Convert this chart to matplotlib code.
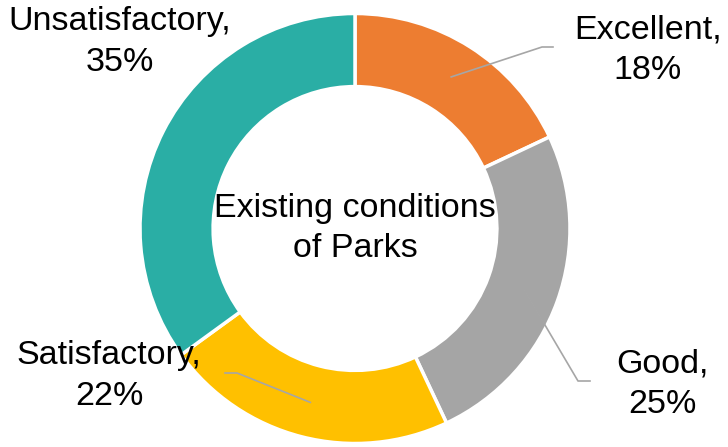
import numpy as np
from matplotlib import pyplot as plt

categories = ['Excellent', 'Good', 'Satisfactory', 'Unsatisfactory']
shares = [18, 25, 22, 35]
colors = ['#ED7D31', '#A5A5A5', '#FFC000', '#2AAEA5']
title = 'Existing conditions\nof Parks'

W, H = 728, 447
cx, cy = 355, H - 228.5
R = 215

plt.rcParams['font.family'] = ['Liberation Sans', 'DejaVu Sans']

fig = plt.figure(figsize=(W / 100, H / 100), dpi=100)
ax = fig.add_axes([0, 0, 1, 1])

wedges, _ = ax.pie(shares, colors=colors, startangle=90, counterclock=False,
                   center=(cx, cy), radius=R, frame=False,
                   wedgeprops=dict(width=R * 0.34, edgecolor='white', linewidth=2.5))
ax.set_xlim(0, W)
ax.set_ylim(0, H)
ax.set_aspect('equal')
ax.axis('off')

ax.text(cx, cy, title, ha='center', va='center', fontsize=24.5, linespacing=1.4)

# label block centre and leader elbow (pixels from top-left), per category
label_pos = {'Excellent': (648, 50), 'Good': (662, 384),
             'Satisfactory': (109, 376), 'Unsatisfactory': (120, 42)}
elbows = {'Excellent': [(542, 47), (553, 47)],
          'Good': [(578, 381), (590, 381)],
          'Satisfactory': [(237, 373), (225, 373)]}

for w, cat, s in zip(wedges, categories, shares):
    lx, ly = label_pos[cat]
    ax.text(lx, H - ly, '%s,\n%d%%' % (cat, s), ha='center', va='center',
            fontsize=24.5, linespacing=1.4)
    if cat in elbows:
        ang = np.deg2rad((w.theta1 + w.theta2) / 2)
        x0 = cx + 0.835 * R * np.cos(ang)
        y0 = cy + 0.835 * R * np.sin(ang)
        xs = [x0] + [p[0] for p in elbows[cat]]
        ys = [y0] + [H - p[1] for p in elbows[cat]]
        ax.plot(xs, ys, color='#A6A6A6', lw=1.2)

fig.savefig('out.png', dpi=100)
